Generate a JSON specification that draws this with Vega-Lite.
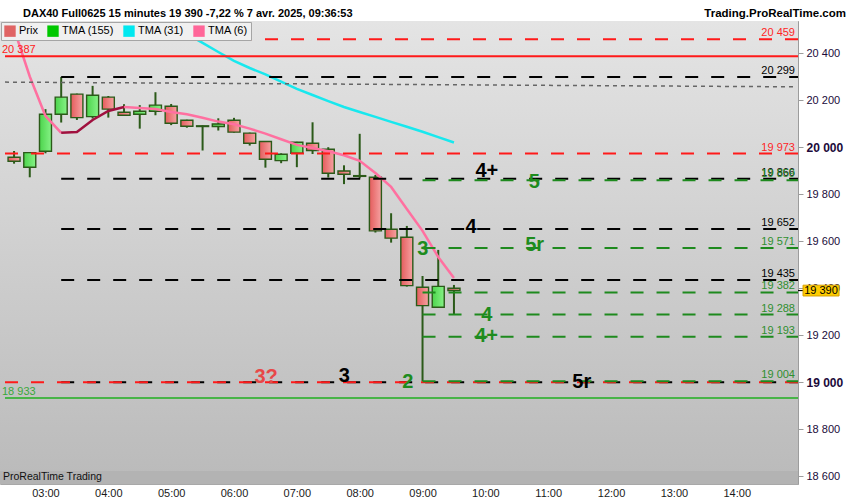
{
  "$schema": "https://vega.github.io/schema/vega-lite/v6.json",
  "width": 798,
  "height": 463,
  "autosize": {"type": "none"},
  "padding": {"left": 0, "top": 21, "right": 52, "bottom": 16},
  "background": "#ffffff",
  "config": {
    "font": "Liberation Sans",
    "view": {"stroke": "#a8a8a8", "strokeWidth": 1}
  },
  "datasets": {
    "bougies": [
      {"t": "2025-04-07T02:30:00Z", "o": 19957, "h": 19984, "l": 19930, "c": 19940},
      {"t": "2025-04-07T02:45:00Z", "o": 19915, "h": 19977, "l": 19872, "c": 19977},
      {"t": "2025-04-07T03:00:00Z", "o": 19983, "h": 20162, "l": 19974, "c": 20140},
      {"t": "2025-04-07T03:15:00Z", "o": 20140, "h": 20299, "l": 20105, "c": 20213},
      {"t": "2025-04-07T03:30:00Z", "o": 20226, "h": 20228, "l": 20116, "c": 20126},
      {"t": "2025-04-07T03:45:00Z", "o": 20130, "h": 20261, "l": 20122, "c": 20221},
      {"t": "2025-04-07T04:00:00Z", "o": 20213, "h": 20218, "l": 20126, "c": 20162},
      {"t": "2025-04-07T04:15:00Z", "o": 20149, "h": 20183, "l": 20135, "c": 20136},
      {"t": "2025-04-07T04:30:00Z", "o": 20140, "h": 20179, "l": 20079, "c": 20153},
      {"t": "2025-04-07T04:45:00Z", "o": 20153, "h": 20234, "l": 20136, "c": 20179},
      {"t": "2025-04-07T05:00:00Z", "o": 20174, "h": 20184, "l": 20094, "c": 20102},
      {"t": "2025-04-07T05:15:00Z", "o": 20115, "h": 20117, "l": 20083, "c": 20089},
      {"t": "2025-04-07T05:30:00Z", "o": 20088, "h": 20093, "l": 19986, "c": 20091},
      {"t": "2025-04-07T05:45:00Z", "o": 20088, "h": 20123, "l": 20071, "c": 20099},
      {"t": "2025-04-07T06:00:00Z", "o": 20115, "h": 20125, "l": 20062, "c": 20064},
      {"t": "2025-04-07T06:15:00Z", "o": 20060, "h": 20062, "l": 20007, "c": 20017},
      {"t": "2025-04-07T06:30:00Z", "o": 20024, "h": 20026, "l": 19913, "c": 19949},
      {"t": "2025-04-07T06:45:00Z", "o": 19943, "h": 19974, "l": 19932, "c": 19970},
      {"t": "2025-04-07T07:00:00Z", "o": 19974, "h": 20023, "l": 19915, "c": 20021},
      {"t": "2025-04-07T07:15:00Z", "o": 20017, "h": 20106, "l": 19971, "c": 19986},
      {"t": "2025-04-07T07:30:00Z", "o": 19991, "h": 20000, "l": 19871, "c": 19889},
      {"t": "2025-04-07T07:45:00Z", "o": 19899, "h": 19923, "l": 19843, "c": 19885},
      {"t": "2025-04-07T08:00:00Z", "o": 19879, "h": 20057, "l": 19868, "c": 19876},
      {"t": "2025-04-07T08:15:00Z", "o": 19872, "h": 19882, "l": 19637, "c": 19644},
      {"t": "2025-04-07T08:30:00Z", "o": 19651, "h": 19719, "l": 19594, "c": 19613},
      {"t": "2025-04-07T08:45:00Z", "o": 19617, "h": 19665, "l": 19407, "c": 19411},
      {"t": "2025-04-07T09:00:00Z", "o": 19404, "h": 19452, "l": 19004, "c": 19326},
      {"t": "2025-04-07T09:15:00Z", "o": 19319, "h": 19563, "l": 19319, "c": 19408},
      {"t": "2025-04-07T09:30:00Z", "o": 19400, "h": 19414, "l": 19288, "c": 19390}
    ],
    "tma": [
      {"t": "2025-04-07T05:15:00Z", "serie": "TMA (31)", "seg": "a", "v": 20482},
      {"t": "2025-04-07T05:30:00Z", "serie": "TMA (31)", "seg": "a", "v": 20444},
      {"t": "2025-04-07T05:45:00Z", "serie": "TMA (31)", "seg": "a", "v": 20405},
      {"t": "2025-04-07T06:00:00Z", "serie": "TMA (31)", "seg": "a", "v": 20367},
      {"t": "2025-04-07T06:15:00Z", "serie": "TMA (31)", "seg": "a", "v": 20337},
      {"t": "2025-04-07T06:30:00Z", "serie": "TMA (31)", "seg": "a", "v": 20310},
      {"t": "2025-04-07T06:45:00Z", "serie": "TMA (31)", "seg": "a", "v": 20279},
      {"t": "2025-04-07T07:00:00Z", "serie": "TMA (31)", "seg": "a", "v": 20248},
      {"t": "2025-04-07T07:15:00Z", "serie": "TMA (31)", "seg": "a", "v": 20222},
      {"t": "2025-04-07T07:30:00Z", "serie": "TMA (31)", "seg": "a", "v": 20196},
      {"t": "2025-04-07T07:45:00Z", "serie": "TMA (31)", "seg": "a", "v": 20171},
      {"t": "2025-04-07T08:00:00Z", "serie": "TMA (31)", "seg": "a", "v": 20150},
      {"t": "2025-04-07T08:15:00Z", "serie": "TMA (31)", "seg": "a", "v": 20129},
      {"t": "2025-04-07T08:30:00Z", "serie": "TMA (31)", "seg": "a", "v": 20108},
      {"t": "2025-04-07T08:45:00Z", "serie": "TMA (31)", "seg": "a", "v": 20087},
      {"t": "2025-04-07T09:00:00Z", "serie": "TMA (31)", "seg": "a", "v": 20066},
      {"t": "2025-04-07T09:15:00Z", "serie": "TMA (31)", "seg": "a", "v": 20043},
      {"t": "2025-04-07T09:30:00Z", "serie": "TMA (31)", "seg": "a", "v": 20020},
      {"t": "2025-04-07T02:30:00Z", "serie": "TMA (6)", "seg": "b1", "v": 20503},
      {"t": "2025-04-07T02:45:00Z", "serie": "TMA (6)", "seg": "b1", "v": 20301},
      {"t": "2025-04-07T03:00:00Z", "serie": "TMA (6)", "seg": "b1", "v": 20133},
      {"t": "2025-04-07T03:15:00Z", "serie": "TMA (6)", "seg": "b1", "v": 20061},
      {"t": "2025-04-07T03:15:00Z", "serie": "TMA (6)", "seg": "h", "v": 20061},
      {"t": "2025-04-07T03:30:00Z", "serie": "TMA (6)", "seg": "h", "v": 20065},
      {"t": "2025-04-07T03:45:00Z", "serie": "TMA (6)", "seg": "h", "v": 20116},
      {"t": "2025-04-07T04:00:00Z", "serie": "TMA (6)", "seg": "h", "v": 20154},
      {"t": "2025-04-07T04:15:00Z", "serie": "TMA (6)", "seg": "h", "v": 20171},
      {"t": "2025-04-07T04:15:00Z", "serie": "TMA (6)", "seg": "b2", "v": 20171},
      {"t": "2025-04-07T04:30:00Z", "serie": "TMA (6)", "seg": "b2", "v": 20167},
      {"t": "2025-04-07T04:45:00Z", "serie": "TMA (6)", "seg": "b2", "v": 20163},
      {"t": "2025-04-07T05:00:00Z", "serie": "TMA (6)", "seg": "b2", "v": 20150},
      {"t": "2025-04-07T05:15:00Z", "serie": "TMA (6)", "seg": "b2", "v": 20140},
      {"t": "2025-04-07T05:30:00Z", "serie": "TMA (6)", "seg": "b2", "v": 20125},
      {"t": "2025-04-07T05:45:00Z", "serie": "TMA (6)", "seg": "b2", "v": 20109},
      {"t": "2025-04-07T06:00:00Z", "serie": "TMA (6)", "seg": "b2", "v": 20098},
      {"t": "2025-04-07T06:15:00Z", "serie": "TMA (6)", "seg": "b2", "v": 20079},
      {"t": "2025-04-07T06:30:00Z", "serie": "TMA (6)", "seg": "b2", "v": 20058},
      {"t": "2025-04-07T06:45:00Z", "serie": "TMA (6)", "seg": "b2", "v": 20034},
      {"t": "2025-04-07T07:00:00Z", "serie": "TMA (6)", "seg": "b2", "v": 20010},
      {"t": "2025-04-07T07:15:00Z", "serie": "TMA (6)", "seg": "b2", "v": 19997},
      {"t": "2025-04-07T07:30:00Z", "serie": "TMA (6)", "seg": "b2", "v": 19983},
      {"t": "2025-04-07T07:45:00Z", "serie": "TMA (6)", "seg": "b2", "v": 19966},
      {"t": "2025-04-07T08:00:00Z", "serie": "TMA (6)", "seg": "b2", "v": 19942},
      {"t": "2025-04-07T08:15:00Z", "serie": "TMA (6)", "seg": "b2", "v": 19890},
      {"t": "2025-04-07T08:30:00Z", "serie": "TMA (6)", "seg": "b2", "v": 19831},
      {"t": "2025-04-07T08:45:00Z", "serie": "TMA (6)", "seg": "b2", "v": 19737},
      {"t": "2025-04-07T09:00:00Z", "serie": "TMA (6)", "seg": "b2", "v": 19644},
      {"t": "2025-04-07T09:15:00Z", "serie": "TMA (6)", "seg": "b2", "v": 19533},
      {"t": "2025-04-07T09:30:00Z", "serie": "TMA (6)", "seg": "b2", "v": 19444}
    ],
    "niveaux": [
      {"prix": 20459, "libelle": "20 459", "debut": "2025-04-07T02:21:21Z", "trait": "tirets", "groupe": "rouge"},
      {"prix": 20387, "libelle": "20 387", "debut": "2025-04-07T02:21:21Z", "trait": "plein", "groupe": "rouge"},
      {"prix": 20299, "libelle": "20 299", "debut": "2025-04-07T03:15:00Z", "trait": "tirets", "groupe": "noir"},
      {"prix": 19973, "libelle": "19 973", "debut": "2025-04-07T02:21:21Z", "trait": "tirets", "groupe": "rouge"},
      {"prix": 19866, "libelle": "19 866", "debut": "2025-04-07T03:15:00Z", "trait": "tirets", "groupe": "noir"},
      {"prix": 19859, "libelle": "19 859", "debut": "2025-04-07T09:00:00Z", "trait": "tirets", "groupe": "vert"},
      {"prix": 19652, "libelle": "19 652", "debut": "2025-04-07T03:15:00Z", "trait": "tirets", "groupe": "noir"},
      {"prix": 19571, "libelle": "19 571", "debut": "2025-04-07T09:00:00Z", "trait": "tirets", "groupe": "vert"},
      {"prix": 19435, "libelle": "19 435", "debut": "2025-04-07T03:15:00Z", "trait": "tirets", "groupe": "noir"},
      {"prix": 19382, "libelle": "19 382", "debut": "2025-04-07T09:00:00Z", "trait": "tirets", "groupe": "vert"},
      {"prix": 19288, "libelle": "19 288", "debut": "2025-04-07T09:00:00Z", "trait": "tirets", "groupe": "vert"},
      {"prix": 19193, "libelle": "19 193", "debut": "2025-04-07T09:00:00Z", "trait": "tirets", "groupe": "vert"},
      {"prix": 19000, "libelle": "", "debut": "2025-04-07T03:15:00Z", "trait": "tirets", "groupe": "noir"},
      {"prix": 19000, "libelle": "", "debut": "2025-04-07T02:21:21Z", "trait": "tirets", "groupe": "rouge"},
      {"prix": 19004, "libelle": "19 004", "debut": "2025-04-07T09:00:00Z", "trait": "tirets", "groupe": "vert"},
      {"prix": 18933, "libelle": "18 933", "debut": "2025-04-07T02:21:21Z", "trait": "plein", "groupe": "vert"}
    ],
    "tendance": [
      {"debut": "2025-04-07T02:21:21Z", "fin": "2025-04-07T14:53:43Z", "p1": 20277, "p2": 20257}
    ],
    "etiquettes": [
      {"t": "2025-04-07T10:01:24Z", "prix": 19899, "texte": "4+", "groupe": "noir"},
      {"t": "2025-04-07T10:46:42Z", "prix": 19854, "texte": "5", "groupe": "vert"},
      {"t": "2025-04-07T09:46:18Z", "prix": 19659, "texte": "4", "groupe": "noir"},
      {"t": "2025-04-07T10:47:00Z", "prix": 19584, "texte": "5r", "groupe": "vert"},
      {"t": "2025-04-07T09:00:12Z", "prix": 19567, "texte": "3", "groupe": "vert"},
      {"t": "2025-04-07T10:01:24Z", "prix": 19286, "texte": "4", "groupe": "vert"},
      {"t": "2025-04-07T10:01:00Z", "prix": 19197, "texte": "4+", "groupe": "vert"},
      {"t": "2025-04-07T06:30:42Z", "prix": 19023, "texte": "3?", "groupe": "rouge"},
      {"t": "2025-04-07T07:45:12Z", "prix": 19027, "texte": "3", "groupe": "noir"},
      {"t": "2025-04-07T08:46:00Z", "prix": 19003, "texte": "2", "groupe": "vert"},
      {"t": "2025-04-07T11:32:00Z", "prix": 19003, "texte": "5r", "groupe": "noir"}
    ],
    "dernier": [{"prix": 19390, "libelle": "19 390"}]
  },
  "layer": [
    {
      "data": {"values": [{}]},
      "mark": {
        "type": "rect",
        "fill": {"gradient": "linear", "x1": 0, "y1": 0, "x2": 0, "y2": 1,
          "stops": [{"offset": 0, "color": "#e4e4e4"}, {"offset": 1, "color": "#bababa"}]}
      },
      "encoding": {
        "x": {"value": 0}, "x2": {"value": "width"},
        "y": {"value": 0}, "y2": {"value": "height"}
      }
    },
    {
      "data": {"values": [{}]},
      "mark": {"type": "rect", "fill": "#b3b3b3"},
      "encoding": {
        "x": {"value": 0}, "x2": {"value": "width"},
        "y": {"datum": 18622, "type": "quantitative"},
        "y2": {"datum": 18567}
      }
    },
    {
      "data": {"values": [{}]},
      "mark": {"type": "text", "align": "left", "baseline": "middle", "dx": 3, "fontSize": 10.5, "color": "#111111", "text": "ProRealTime Trading"},
      "encoding": {
        "x": {"value": 0},
        "y": {"datum": 18597, "type": "quantitative"}
      }
    },
    {
      "data": {"name": "bougies"},
      "mark": {"type": "rule", "strokeWidth": 2, "color": "#2b5a19"},
      "encoding": {
        "x": {
          "field": "t", "type": "temporal", "title": null,
          "scale": {"type": "utc", "domain": [1743992481000, 1744037623000], "nice": false},
          "axis": {
            "values": [1743994800000, 1743998400000, 1744002000000, 1744005600000, 1744009200000, 1744012800000, 1744016400000, 1744020000000, 1744023600000, 1744027200000, 1744030800000, 1744034400000],
            "labelExpr": "utcFormat(datum.value, '%H:%M')",
            "labelFontSize": 11,
            "labelColor": "#1a1a1a",
            "ticks": false,
            "domain": false,
            "grid": false,
            "labelPadding": 3,
            "labelFlush": false
          }
        },
        "y": {
          "field": "l", "type": "quantitative", "title": null,
          "scale": {"domain": [18567, 20537], "nice": false, "zero": false},
          "axis": {
            "orient": "right",
            "values": [18600, 18700, 18800, 18900, 19000, 19100, 19200, 19300, 19400, 19500, 19600, 19700, 19800, 19900, 20000, 20100, 20200, 20300, 20400, 20500],
            "labelExpr": "datum.value % 200 === 0 ? replace(datum.label, ',', ' ') : ''",
            "labelFontSize": {"condition": {"test": "datum.value % 1000 === 0", "value": 12}, "value": 11},
            "labelFontWeight": {"condition": {"test": "datum.value % 1000 === 0", "value": "bold"}, "value": "normal"},
            "labelColor": "#200a3a",
            "labelPadding": 3,
            "tickSize": 5,
            "tickColor": "#9c9c9c",
            "domainColor": "#9c9c9c",
            "grid": false
          }
        },
        "y2": {"field": "h"}
      }
    },
    {
      "data": {"name": "bougies"},
      "transform": [{"filter": "datum.c >= datum.o"}],
      "mark": {
        "type": "bar", "width": 12, "stroke": "#2b5a19", "strokeWidth": 1.4,
        "fill": {"gradient": "linear", "x1": 0, "y1": 0, "x2": 1, "y2": 0,
          "stops": [{"offset": 0, "color": "#4cd44c"}, {"offset": 1, "color": "#86f286"}]}
      },
      "encoding": {
        "x": {"field": "t", "type": "temporal", "title": null},
        "y": {"field": "o", "type": "quantitative", "title": null},
        "y2": {"field": "c"}
      }
    },
    {
      "data": {"name": "bougies"},
      "transform": [{"filter": "datum.c < datum.o"}],
      "mark": {
        "type": "bar", "width": 12, "stroke": "#2b5a19", "strokeWidth": 1.4,
        "fill": {"gradient": "linear", "x1": 0, "y1": 0, "x2": 1, "y2": 0,
          "stops": [{"offset": 0, "color": "#e45c5c"}, {"offset": 1, "color": "#f6a2a2"}]}
      },
      "encoding": {
        "x": {"field": "t", "type": "temporal", "title": null},
        "y": {"field": "o", "type": "quantitative", "title": null},
        "y2": {"field": "c"}
      }
    },
    {
      "data": {"name": "tma"},
      "transform": [{"filter": "datum.serie === 'TMA (31)'"}],
      "mark": {"type": "line", "color": "#18e8ee", "strokeWidth": 2.5},
      "encoding": {
        "x": {"field": "t", "type": "temporal", "title": null},
        "y": {"field": "v", "type": "quantitative", "title": null}
      }
    },
    {
      "data": {"name": "tma"},
      "transform": [{"filter": "datum.serie === 'TMA (6)' && datum.seg !== 'h'"}],
      "mark": {"type": "line", "color": "#ff70a0", "strokeWidth": 2.5},
      "encoding": {
        "x": {"field": "t", "type": "temporal", "title": null},
        "y": {"field": "v", "type": "quantitative", "title": null},
        "detail": {"field": "seg"}
      }
    },
    {
      "data": {"name": "tma"},
      "transform": [{"filter": "datum.seg === 'h'"}],
      "mark": {"type": "line", "color": "#a0103e", "strokeWidth": 2.5},
      "encoding": {
        "x": {"field": "t", "type": "temporal", "title": null},
        "y": {"field": "v", "type": "quantitative", "title": null}
      }
    },
    {
      "data": {"name": "tendance"},
      "mark": {"type": "rule", "color": "#666666", "strokeWidth": 1.5, "strokeDash": [4, 4]},
      "encoding": {
        "x": {"field": "debut", "type": "temporal", "title": null},
        "x2": {"field": "fin"},
        "y": {"field": "p1", "type": "quantitative", "title": null},
        "y2": {"field": "p2"}
      }
    },
    {
      "data": {"name": "niveaux"},
      "transform": [{"filter": "datum.trait === 'tirets'"}],
      "mark": {"type": "rule", "strokeWidth": 2, "strokeDash": [13, 13]},
      "encoding": {
        "x": {"field": "debut", "type": "temporal", "title": null},
        "x2": {"value": "width"},
        "y": {"field": "prix", "type": "quantitative", "title": null},
        "color": {
          "condition": [
            {"test": "datum.groupe === 'rouge'", "value": "#ff1a1a"},
            {"test": "datum.groupe === 'vert'", "value": "#1e8a1e"}
          ],
          "value": "#000000"
        }
      }
    },
    {
      "data": {"name": "niveaux"},
      "transform": [{"filter": "datum.trait === 'plein'"}],
      "mark": {"type": "rule", "strokeWidth": 2},
      "encoding": {
        "x": {"field": "debut", "type": "temporal", "title": null},
        "x2": {"value": "width"},
        "y": {"field": "prix", "type": "quantitative", "title": null},
        "color": {
          "condition": {"test": "datum.groupe === 'rouge'", "value": "#ff1a1a"},
          "value": "#48b448"
        }
      }
    },
    {
      "data": {"name": "niveaux"},
      "transform": [{"filter": "datum.trait === 'tirets'"}],
      "mark": {"type": "text", "align": "right", "baseline": "alphabetic", "dx": -3, "dy": -3, "fontSize": 11},
      "encoding": {
        "x": {"value": "width"},
        "y": {"field": "prix", "type": "quantitative", "title": null},
        "text": {"field": "libelle"},
        "color": {
          "condition": [
            {"test": "datum.groupe === 'rouge'", "value": "#ff2626"},
            {"test": "datum.groupe === 'vert'", "value": "#2f8f2f"}
          ],
          "value": "#000000"
        }
      }
    },
    {
      "data": {"name": "niveaux"},
      "transform": [{"filter": "datum.trait === 'plein'"}],
      "mark": {"type": "text", "align": "left", "baseline": "alphabetic", "dx": 2, "dy": -3, "fontSize": 11},
      "encoding": {
        "x": {"value": 0},
        "y": {"field": "prix", "type": "quantitative", "title": null},
        "text": {"field": "libelle"},
        "color": {
          "condition": {"test": "datum.groupe === 'rouge'", "value": "#ff2020"},
          "value": "#3aa83a"
        }
      }
    },
    {
      "data": {"name": "etiquettes"},
      "mark": {"type": "text", "align": "center", "baseline": "middle", "fontSize": 20, "fontWeight": "bold"},
      "encoding": {
        "x": {"field": "t", "type": "temporal", "title": null},
        "y": {"field": "prix", "type": "quantitative", "title": null},
        "text": {"field": "texte"},
        "color": {
          "condition": [
            {"test": "datum.groupe === 'rouge'", "value": "#e84848"},
            {"test": "datum.groupe === 'vert'", "value": "#1e8c1e"}
          ],
          "value": "#000000"
        }
      }
    },
    {
      "data": {"name": "dernier"},
      "mark": {"type": "point", "filled": true, "opacity": 1, "size": 1296, "color": "#000000", "strokeWidth": 0,
        "shape": "M0,-0.03H0.28V0.03H0Z"},
      "encoding": {
        "x": {"value": "width"},
        "y": {"field": "prix", "type": "quantitative", "title": null}
      }
    },
    {
      "data": {"name": "dernier"},
      "mark": {"type": "point", "filled": true, "opacity": 1, "size": 1296, "fill": "#ffcc00", "stroke": "#d6a000", "strokeWidth": 1,
        "shape": "M0.28,-0.3H2.28V0.3H0.28Z"},
      "encoding": {
        "x": {"value": "width"},
        "y": {"field": "prix", "type": "quantitative", "title": null}
      }
    },
    {
      "data": {"name": "dernier"},
      "mark": {"type": "text", "align": "center", "baseline": "middle", "dx": 23, "fontSize": 11, "color": "#000000"},
      "encoding": {
        "x": {"value": "width"},
        "y": {"field": "prix", "type": "quantitative", "title": null},
        "text": {"field": "libelle"}
      }
    },
    {
      "data": {"values": [{}]},
      "mark": {"type": "text", "align": "left", "baseline": "alphabetic", "dx": 23, "fontSize": 11, "fontWeight": "bold", "color": "#000000",
        "text": "DAX40 Full0625 15 minutes 19 390 -7,22 % 7 avr. 2025, 09:36:53"},
      "encoding": {
        "x": {"value": 0},
        "y": {"datum": 20556, "type": "quantitative"}
      }
    },
    {
      "data": {"values": [{}]},
      "mark": {"type": "text", "align": "right", "baseline": "alphabetic", "dx": 48, "fontSize": 11.5, "fontWeight": "bold", "color": "#000000", "text": "Trading.ProRealTime.com"},
      "encoding": {
        "x": {"value": "width"},
        "y": {"datum": 20556, "type": "quantitative"}
      }
    },
    {
      "data": {"name": "tma"},
      "mark": {"type": "point", "opacity": 0, "filled": true},
      "encoding": {
        "x": {"field": "t", "type": "temporal", "title": null},
        "y": {"field": "v", "type": "quantitative", "title": null},
        "fill": {
          "field": "serie", "type": "nominal",
          "scale": {
            "domain": ["Prix", "TMA (155)", "TMA (31)", "TMA (6)"],
            "range": ["#e06464", "#00c800", "#00e8f0", "#ff6699"]
          },
          "legend": {
            "title": null,
            "orient": "top-left",
            "offset": 1,
            "direction": "horizontal",
            "symbolType": "square",
            "symbolSize": 130,
            "symbolStrokeWidth": 0,
            "symbolOpacity": 1,
            "labelFontSize": 11,
            "labelColor": "#000000",
            "labelOffset": 3,
            "columnPadding": 9,
            "padding": 3,
            "fillColor": "#f0f0f0",
            "strokeColor": "#a5a5a5",
            "cornerRadius": 0
          }
        }
      }
    }
  ]
}
